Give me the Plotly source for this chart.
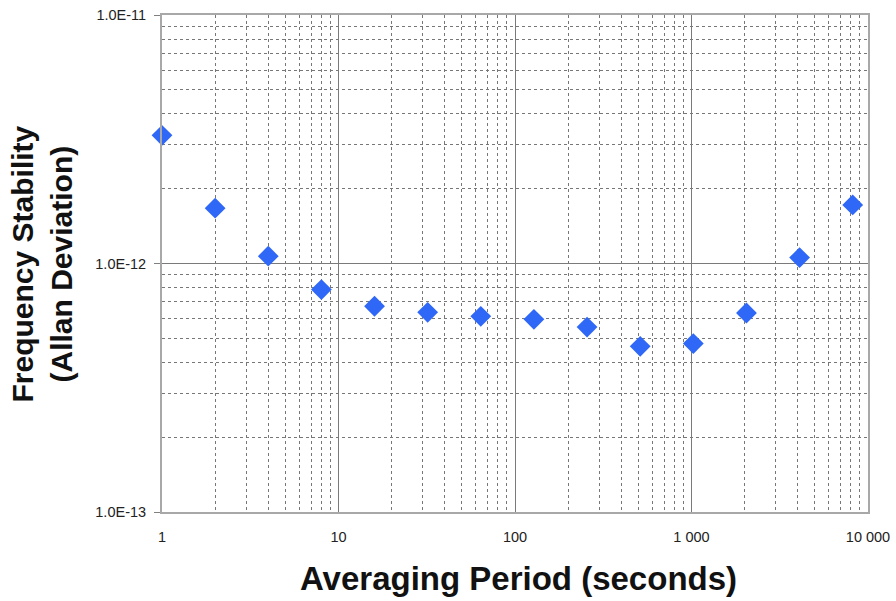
import plotly.graph_objects as go

# Data
tau = [1, 2, 4, 8, 16, 32, 64, 128, 256, 512, 1024, 2048, 4096, 8192]
adev = [3.28e-12, 1.67e-12, 1.07e-12, 7.85e-13, 6.73e-13, 6.36e-13, 6.13e-13,
        5.96e-13, 5.55e-13, 4.64e-13, 4.76e-13, 6.32e-13, 1.056e-12, 1.72e-12]

x_tickvals = [1, 10, 100, 1000, 10000]
x_ticktext = ["1", "10", "100", "1 000", "10 000"]
y_tickvals = [1e-13, 1e-12, 1e-11]
y_ticktext = ["1.0E-13", "1.0E-12", "1.0E-11"]

x_title = "Averaging Period (seconds)"
y_title = ["Frequency Stability", "(Allan Deviation)"]

x_minor = [m * 10 ** d for d in range(4) for m in range(2, 10)]
y_minor = [m * 10.0 ** d for d in (-13, -12) for m in range(2, 10)]

FONT = "Liberation Sans, Arial, sans-serif"

fig = go.Figure()
fig.add_trace(go.Scatter(
    x=tau, y=adev, mode="markers", cliponaxis=False,
    marker=dict(symbol="diamond", size=16, color="#2f67f6", line=dict(width=0)),
    showlegend=False,
))

fig.update_layout(
    width=896, height=601,
    margin=dict(l=162, r=28, t=15, b=89),
    paper_bgcolor="white", plot_bgcolor="white",
    font=dict(family=FONT, color="#222"),
)

fig.update_xaxes(
    type="log", range=[0, 4], automargin=False,
    tickvals=x_tickvals, ticktext=x_ticktext,
    tickfont=dict(size=14.5, family=FONT, color="#222"),
    showgrid=True, gridcolor="#7a7a7a", gridwidth=1,
    showline=True, linecolor="#a8a8a8", linewidth=2, mirror=True,
    ticks="", ticklabelstandoff=11,
    minor=dict(tickvals=x_minor, showgrid=True, gridcolor="#777777",
               griddash="dot", gridwidth=1, ticks=""),
    zeroline=False,
)
fig.update_yaxes(
    type="log", range=[-13, -11], automargin=False,
    tickvals=y_tickvals, ticktext=y_ticktext,
    tickfont=dict(size=14.5, family=FONT, color="#222"),
    showgrid=True, gridcolor="#7a7a7a", gridwidth=1,
    showline=True, linecolor="#a8a8a8", linewidth=2, mirror=True,
    ticks="outside", ticklen=6, tickcolor="#808080", tickwidth=1,
    ticklabelstandoff=5,
    minor=dict(tickvals=y_minor, showgrid=True, gridcolor="#777777",
               griddash="dot", gridwidth=1, ticks=""),
    zeroline=False,
)

fig.add_annotation(
    text="<b>" + x_title + "</b>", xref="paper", yref="paper",
    x=0.5045, y=-0.1334, xanchor="center", yanchor="middle",
    showarrow=False, font=dict(size=33, family=FONT, color="#111"),
)
fig.add_annotation(
    text="<b>" + "<br>".join(y_title) + "</b>", xref="paper", yref="paper",
    x=-0.17, y=0.5, xanchor="center", yanchor="middle", textangle=-90,
    showarrow=False, font=dict(size=30, family=FONT, color="#111"),
)

fig.write_html("out.html", config={"displayModeBar": False},
               post_script="document.body.style.margin='0';document.body.style.overflow='hidden';")
